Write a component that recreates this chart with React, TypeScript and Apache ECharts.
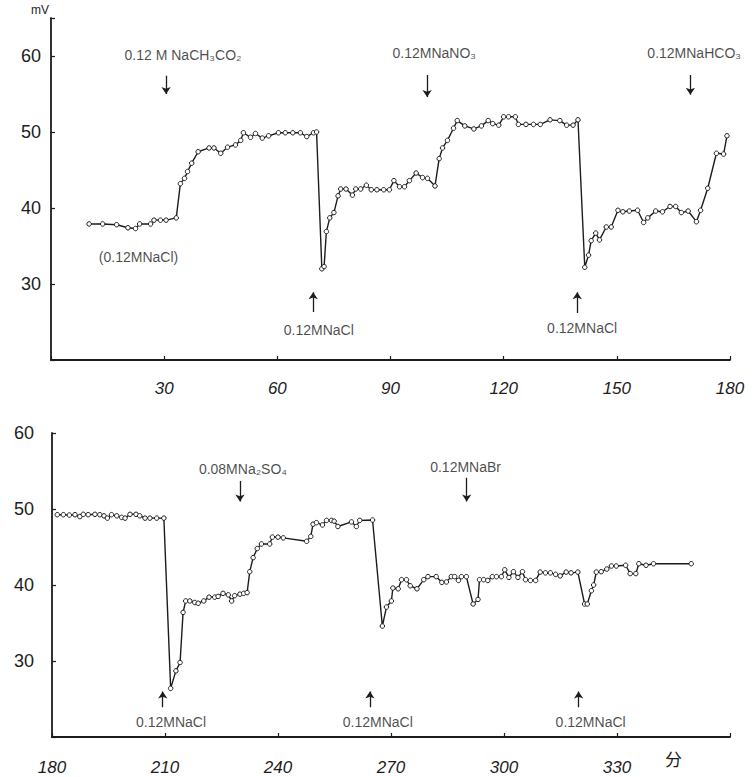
import React, { useEffect, useRef } from 'react';
import * as echarts from 'echarts';

// ---- Upper panel: time (min) and potential (mV)
const topTime = [
  10.1, 13.7, 17.4, 20.4, 22.4, 23.5, 26.4, 27.3, 29.0, 30.5, 33.2, 34.3, 35.4, 36.2, 37.3, 39.0, 41.9, 43.2, 45.0, 46.8,
  48.9, 50.3, 51.0, 52.9, 54.2, 56.0, 57.7, 60.3, 62.1, 64.1, 66.1, 67.8, 69.6, 70.4,
  71.8, 72.4, 73.0, 73.9, 75.0, 76.1, 76.8, 78.2, 79.9, 80.8, 82.1, 83.6, 84.9, 86.4, 88.2, 89.7, 90.9, 92.4, 93.7, 95.0,
  96.8, 98.5, 99.8, 101.8, 102.9, 103.8, 105.1, 106.7, 107.7, 109.7, 112.1, 114.1, 115.9, 117.1, 118.7, 120.0, 121.3,
  123.1, 123.9, 125.9, 127.9, 129.7, 132.3, 134.9, 136.7, 138.4, 139.7,
  141.5, 142.5, 143.2, 144.4, 145.4, 147.2, 148.5, 150.3, 151.6, 153.3, 155.5, 157.1, 158.2, 160.3, 162.1, 164.1, 165.6,
  167.1, 168.9, 171.1, 172.2, 174.1, 176.4, 178.3, 179.2,
];
const topVolt = [
  37.9, 37.9, 37.8, 37.4, 37.3, 37.9, 37.9, 38.4, 38.4, 38.4, 38.7, 43.2, 43.9, 44.8, 45.9, 47.4, 47.9, 47.9, 47.2, 48.0,
  48.3, 48.9, 49.9, 49.3, 49.8, 49.2, 49.5, 49.9, 49.9, 49.9, 49.9, 49.4, 49.9, 50.0,
  32.0, 32.3, 36.9, 38.7, 39.4, 41.6, 42.5, 42.5, 41.7, 42.5, 42.5, 43.0, 42.4, 42.4, 42.4, 42.4, 43.6, 42.8, 42.8, 43.6,
  44.6, 44.0, 43.9, 42.9, 46.5, 47.9, 48.9, 50.5, 51.5, 50.8, 50.4, 50.8, 51.5, 51.1, 50.9, 52.0, 52.0,
  52.0, 51.0, 51.0, 51.0, 51.0, 51.6, 51.5, 50.9, 50.9, 51.6,
  32.2, 33.8, 35.7, 36.7, 35.8, 37.5, 37.5, 39.7, 39.5, 39.6, 39.7, 38.1, 38.7, 39.6, 39.5, 40.2, 40.2,
  39.4, 39.6, 38.2, 39.7, 42.6, 47.2, 47.1, 49.5,
];

// ---- Lower panel
const botTime = [
  181.4, 183.0, 184.6, 186.1, 187.4, 188.3, 189.6, 191.4, 192.7, 193.8, 194.7, 195.8, 197.2, 198.5, 199.4, 200.7, 202.3,
  203.3, 204.7, 206.0, 207.8, 209.7,
  211.5, 212.9, 214.0, 214.8, 215.5, 216.6, 217.9, 218.8, 220.3, 221.7, 223.2, 224.1, 225.4, 226.8, 227.7, 228.5, 229.9,
  230.9, 231.8, 232.5, 233.4, 234.5, 235.6, 237.8, 238.5, 240.0, 241.4, 247.6, 248.7, 249.3, 250.2, 251.8, 252.9, 254.2,
  254.9, 255.9, 259.5, 260.8, 261.7, 265.1,
  267.7, 268.8, 270.1, 270.5, 271.9, 272.8, 274.1, 275.1, 276.9, 278.7, 279.8, 282.0, 283.5, 284.7, 286.0, 286.9, 287.9,
  288.7, 290.0, 291.8, 293.1, 293.5, 294.6, 295.7, 296.9, 298.0, 299.3, 300.2, 301.3, 302.5, 303.7, 304.9, 305.7, 307.0,
  308.4, 309.6, 311.0, 312.3, 313.7, 314.9, 316.5, 317.8, 319.6, 321.4, 322.1, 323.2, 323.8, 324.5, 325.8, 327.3, 328.5,
  329.8, 332.3, 333.5, 335.0, 335.8, 337.7, 339.7, 349.7,
];
const botVolt = [
  49.25, 49.25, 49.2, 49.25, 49.0, 49.3, 49.25, 49.3, 49.25, 49.1, 48.8, 49.25, 49.1, 48.9, 48.8, 49.3, 49.3,
  49.1, 48.8, 48.8, 48.8, 48.8,
  26.4, 28.7, 29.8, 36.4, 37.9, 37.9, 37.7, 37.6, 37.9, 38.4, 38.4, 38.5, 38.9, 38.7, 37.9, 38.6, 38.8,
  38.9, 39.0, 41.75, 43.6, 44.8, 45.4, 45.4, 46.3, 46.3, 46.2, 45.75, 46.4, 48.0, 48.2, 47.9, 48.5, 48.5,
  48.4, 47.7, 48.3, 47.7, 48.5, 48.55,
  34.6, 37.1, 37.9, 39.6, 39.5, 40.7, 40.7, 39.9, 39.5, 40.7, 41.1, 41.1, 40.35, 40.4, 41.1, 41.1, 40.6,
  41.1, 41.1, 37.5, 38.1, 40.7, 40.7, 40.6, 41.1, 41.1, 41.1, 42.0, 41.0, 41.75, 41.0, 41.75, 40.7, 40.6,
  40.6, 41.7, 41.6, 41.6, 41.4, 41.2, 41.7, 41.6, 41.7, 37.5, 37.5, 39.25, 40.0, 41.7, 41.75, 42.1, 42.5,
  42.5, 42.6, 41.5, 41.5, 42.8, 42.6, 42.8, 42.8,
];

// ---- Tick labels
const topXTicks = [30, 60, 90, 120, 150, 180];
const botXTicks = [180, 210, 240, 270, 300, 330];
const yTicks = [30, 40, 50, 60];

// ---- Annotations (time, mV)
const topNotes = [
  { text: '0.12 M NaCH₃CO₂', t: 35, v: 60.1 },
  { text: '0.12MNaNO₃', t: 101.6, v: 60.4 },
  { text: '0.12MNaHCO₃', t: 170.5, v: 60.4 },
  { text: '(0.12MNaCl)', t: 23.2, v: 33.6 },
  { text: '0.12MNaCl', t: 71, v: 24.0 },
  { text: '0.12MNaCl', t: 140.8, v: 24.2 },
];
const topArrows = [
  { t: 30.5, from: 57.4, to: 55.0 },
  { t: 99.7, from: 57.5, to: 54.6 },
  { t: 169.5, from: 57.5, to: 54.9 },
  { t: 69.5, from: 26.3, to: 28.9 },
  { t: 139.5, from: 26.2, to: 28.9 },
];
const botNotes = [
  { text: '0.08MNa₂SO₄', t: 230.7, v: 55.3 },
  { text: '0.12MNaBr', t: 289.8, v: 55.5 },
  { text: '0.12MNaCl', t: 211.6, v: 22.0 },
  { text: '0.12MNaCl', t: 266.5, v: 22.0 },
  { text: '0.12MNaCl', t: 323.0, v: 22.0 },
];
const botArrows = [
  { t: 229.9, from: 53.7, to: 51.0 },
  { t: 290.1, from: 54.1, to: 51.0 },
  { t: 209.4, from: 23.9, to: 26.0 },
  { t: 264.4, from: 23.9, to: 26.0 },
  { t: 319.8, from: 23.9, to: 26.0 },
];

const zip = (a: number[], b: number[]) => a.map((x, i) => [x, b[i]]);

export default function App() {
  const ref = useRef<HTMLDivElement>(null);
  useEffect(() => {
    const chart = echarts.init(ref.current!, null, { renderer: 'svg' });
    const ink = '#1c1c1c';
    const font = 'Liberation Sans';

    const xAxis = (grid: number, min: number, max: number, ticks: number[]) => ({
      type: 'value',
      gridIndex: grid,
      min,
      max,
      interval: 30,
      axisLine: { show: true, onZero: false, lineStyle: { color: ink, width: 1.8 } },
      axisTick: { show: true, inside: true, length: 4, lineStyle: { color: ink, width: 1.2 } },
      splitLine: { show: false },
      axisLabel: {
        margin: grid === 0 ? 20 : 22,
        color: ink,
        fontSize: 17,
        fontStyle: 'italic',
        fontFamily: font,
        formatter: (v: number) => (ticks.includes(v) ? String(v) : ''),
      },
    });
    const yAxis = (grid: number, max: number, margin: number) => ({
      type: 'value',
      gridIndex: grid,
      min: 20,
      max,
      interval: 10,
      name: grid === 0 ? 'mV' : '',
      nameLocation: 'end',
      nameGap: 2,
      nameTextStyle: { color: ink, fontSize: 12, fontFamily: font, align: 'right', verticalAlign: 'bottom', padding: [0, 2, 0, 0] },
      axisLine: { show: true, onZero: false, lineStyle: { color: ink, width: 1.8 } },
      axisTick: { show: true, inside: true, length: 4, lineStyle: { color: ink, width: 1.2 } },
      splitLine: { show: false },
      axisLabel: {
        margin,
        color: ink,
        fontSize: 18,
        fontFamily: font,
        formatter: (v: number) => (yTicks.includes(v) ? String(v) : ''),
      },
    });

    const lineSeries = (idx: number, t: number[], v: number[]) => ({
      type: 'line',
      xAxisIndex: idx,
      yAxisIndex: idx,
      data: zip(t, v),
      symbol: 'circle',
      symbolSize: 4.5,
      showAllSymbol: true,
      itemStyle: { color: '#ffffff', borderColor: ink, borderWidth: 1 },
      lineStyle: { color: ink, width: 1.4 },
      z: 3,
    });
    const noteSeries = (idx: number, notes: { text: string; t: number; v: number }[]) => ({
      type: 'scatter',
      xAxisIndex: idx,
      yAxisIndex: idx,
      symbolSize: 1,
      itemStyle: { color: 'rgba(0,0,0,0)' },
      clip: false,
      data: notes.map((n) => ({ value: [n.t, n.v], name: n.text })),
      label: {
        show: true,
        position: 'inside',
        formatter: (p: any) => p.name,
        color: ink,
        fontSize: 14,
        fontFamily: font,
      },
      z: 4,
    });
    const arrowSeries = (idx: number, arrows: { t: number; from: number; to: number }[]) => ({
      type: 'lines',
      coordinateSystem: 'cartesian2d',
      xAxisIndex: idx,
      yAxisIndex: idx,
      symbol: ['none', 'arrow'],
      symbolSize: 7,
      lineStyle: { color: ink, width: 1.3, opacity: 1 },
      data: arrows.map((a) => ({ coords: [[a.t, a.from], [a.t, a.to]] })),
      z: 4,
    });

    chart.setOption({
      animation: false,
      backgroundColor: '#ffffff',
      grid: [
        { left: 51, width: 679, top: 18, height: 342 },
        { left: 52, width: 678, top: 433, height: 304 },
      ],
      xAxis: [xAxis(0, 0, 180, topXTicks), xAxis(1, 180, 360, botXTicks)],
      yAxis: [yAxis(0, 65, 10), yAxis(1, 60, 18)],
      series: [
        lineSeries(0, topTime, topVolt),
        lineSeries(1, botTime, botVolt),
        noteSeries(0, topNotes),
        noteSeries(1, botNotes),
        arrowSeries(0, topArrows),
        arrowSeries(1, botArrows),
      ],
      graphic: [
        {
          type: 'text',
          left: 665,
          top: 750,
          style: { text: '分', fill: ink, fontSize: 17, fontFamily: 'Noto Sans CJK SC' },
        },
      ],
    });
    return () => chart.dispose();
  }, []);
  return (
    <div
      ref={ref}
      style={{ position: 'absolute', left: 0, top: 0, width: 752, height: 777, background: '#fff' }}
    />
  );
}
